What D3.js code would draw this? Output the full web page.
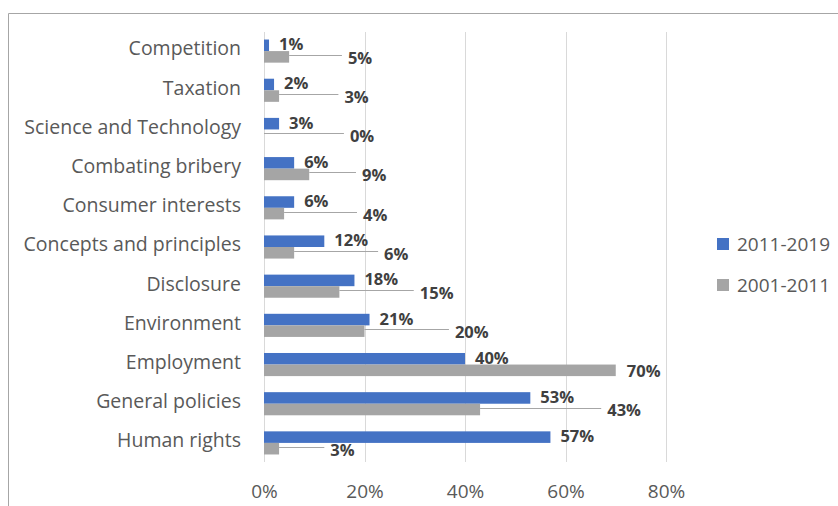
<!DOCTYPE html>
<html>
<head>
<meta charset="utf-8">
<script src="https://cdn.jsdelivr.net/npm/d3@7"></script>
<style>
  html, body { margin: 0; padding: 0; background: #ffffff; }
  svg { display: block; font-family: "Open Sans", sans-serif; }
</style>
</head>
<body>
<svg id="chart" width="838" height="506"></svg>
<script>
// ---- data ----
const categories = [
  "Competition", "Taxation", "Science and Technology", "Combating bribery",
  "Consumer interests", "Concepts and principles", "Disclosure", "Environment",
  "Employment", "General policies", "Human rights"
];
const series2011_2019 = [1, 2, 3, 6, 6, 12, 18, 21, 40, 53, 57];
const series2001_2011 = [5, 3, 0, 9, 4, 6, 15, 20, 70, 43, 3];
const seriesNames = ["2011-2019", "2001-2011"];
const xTicks = [0, 20, 40, 60, 80];

// ---- layout (label placement for the 2001-2011 labels, in axis units) ----
const grayLabelAt = [16.7, 16.0, 17.1, 19.5, 19.7, 23.9, 31.0, 38.0, 72.2, 68.3, 13.2];

const colors = ["#4472C4", "#A5A5A5"];
const svg = d3.select("#chart");

// frame
svg.append("path")
  .attr("d", "M8.5,506 L8.5,13.5 L838,13.5")
  .attr("fill", "none").attr("stroke", "#a6a6a6").attr("stroke-width", 1);

const x = d3.scaleLinear().domain([0, 80]).range([264, 666]);
const y = d3.scaleBand().domain(categories).range([31.5, 462.5])
  .paddingInner(0.41).paddingOuter(0.205);
const ySub = d3.scaleBand().domain([0, 1]).range([0, y.bandwidth()]);

// gridlines
svg.append("g").selectAll("line").data(xTicks).join("line")
  .attr("x1", d => Math.round(x(d)) + 0.5).attr("x2", d => Math.round(x(d)) + 0.5)
  .attr("y1", 32).attr("y2", 462)
  .attr("stroke", "#d9d9d9").attr("stroke-width", 1);

// x axis tick labels
const xAxis = d3.axisBottom(x).tickValues(xTicks).tickFormat(d => d + "%").tickSize(0).tickPadding(0);
const gx = svg.append("g").attr("transform", "translate(0,484)").call(xAxis);
gx.select(".domain").remove();
gx.selectAll("text").attr("font-family", "Open Sans").attr("font-size", 19)
  .attr("fill", "#595959").attr("dy", "0.71em").attr("y", 0);

// y axis labels
const yAxis = d3.axisLeft(y).tickSize(0).tickPadding(0);
const gy = svg.append("g").attr("transform", "translate(241,0)").call(yAxis);
gy.select(".domain").remove();
gy.selectAll("text").attr("font-family", "Open Sans").attr("font-size", 19.5)
  .attr("fill", "#595959").attr("dy", "0.3em").attr("y", -1.5).attr("x", 0);

const data = categories.map((c, i) => ({ c, i, v: [series2011_2019[i], series2001_2011[i]] }));

// bars
[0, 1].forEach(s => {
  svg.append("g").selectAll("rect").data(data).join("rect")
    .attr("x", x(0))
    .attr("y", d => y(d.c) + ySub(s))
    .attr("width", d => x(d.v[s]) - x(0))
    .attr("height", ySub.bandwidth())
    .attr("fill", colors[s]);
});

// labels for 2011-2019
svg.append("g").selectAll("text").data(data).join("text")
  .attr("x", d => x(d.v[0]) + 10)
  .attr("y", d => y(d.c) + ySub(0) + ySub.bandwidth() / 2 - 1)
  .attr("dy", "0.36em")
  .attr("font-size", 16.5).attr("font-weight", "bold").attr("fill", "#404040")
  .text(d => d.v[0] + "%");

// leader lines + labels for 2001-2011
const gl = svg.append("g");
data.forEach(d => {
  const barEnd = x(d.v[1]);
  const lx = x(grayLabelAt[d.i]);
  const cy = y(d.c) + ySub(1) + ySub.bandwidth() / 2;
  if (lx - barEnd > 20) {
    gl.append("line")
      .attr("x1", barEnd).attr("x2", lx - 6)
      .attr("y1", Math.round(cy - 2) + 0.5).attr("y2", Math.round(cy - 2) + 0.5)
      .attr("stroke", "#a6a6a6").attr("stroke-width", 1);
  }
  gl.append("text")
    .attr("x", lx).attr("y", cy + 1).attr("dy", "0.36em")
    .attr("font-size", 16.5).attr("font-weight", "bold").attr("fill", "#404040")
    .text(d.v[1] + "%");
});

// legend
const legend = svg.append("g").selectAll("g").data(seriesNames).join("g")
  .attr("transform", (d, i) => `translate(717,${244 + i * 41})`);
legend.append("rect").attr("x", 0).attr("y", -6).attr("width", 12).attr("height", 12)
  .attr("fill", (d, i) => colors[i]);
legend.append("text").attr("x", 20).attr("y", 0).attr("dy", "0.36em")
  .attr("font-size", 19).attr("fill", "#595959").text(d => d);
</script>
</body>
</html>
